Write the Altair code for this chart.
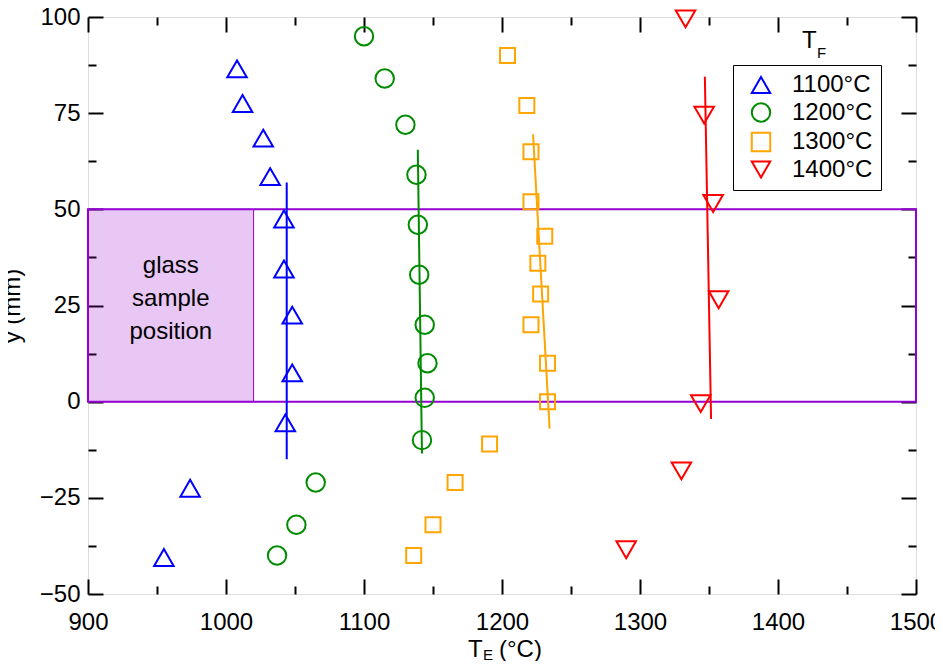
import altair as alt
import pandas as pd

# ---------------- data ----------------
series = ["1100°C", "1200°C", "1300°C", "1400°C"]
colors = ["#0000FF", "#008B00", "#FFA500", "#FF0000"]
shapes = ["triangle-up", "circle", "square", "triangle-down"]

te_1100 = [1008, 1012, 1027, 1032, 1042, 1042, 1048, 1048, 1043, 974, 955]
y_1100 = [86.5, 77.5, 68.5, 58.5, 47.5, 34.5, 22.5, 7.5, -5.5, -22.5, -40.5]
te_1200 = [1100, 1115, 1130, 1138, 1139, 1140, 1144, 1146, 1144, 1142, 1065, 1051, 1037]
y_1200 = [95, 84, 72, 59, 46, 33, 20, 10, 1, -10, -21, -32, -40]
te_1300 = [1204, 1218, 1221, 1221, 1231, 1226, 1228, 1221, 1233, 1233, 1191, 1166, 1150, 1136]
y_1300 = [90, 77, 65, 52, 43, 36, 28, 20, 10, 0, -11, -21, -32, -40]
te_1400 = [1333, 1346.5, 1353, 1357, 1344, 1330, 1290]
y_1400 = [99.5, 74.5, 51.5, 26.5, -0.5, -18, -38.5]

# linear fits (end points)
fit_te_start = [1044, 1139, 1222.5, 1347]
fit_y_start = [57, 65.5, 69.5, 84.5]
fit_te_end = [1044, 1142, 1234.5, 1351.5]
fit_y_end = [-15, -13.5, -7, -4.5]

# glass sample region
glass_te = [900, 1020]
band_te = [900, 1500]
band_y = [0, 50]
glass_label = "glass\nsample\nposition"

# axes
x_domain = [900, 1500]
y_domain = [-50, 100]
x_major = [900, 1000, 1100, 1200, 1300, 1400, 1500]
x_minor = [950, 1050, 1150, 1250, 1350, 1450]
y_major = [-50, -25, 0, 25, 50, 75, 100]
y_minor = [-37.5, -12.5, 12.5, 37.5, 62.5, 87.5]

# ---------------- tables ----------------
all_te = [te_1100, te_1200, te_1300, te_1400]
all_y = [y_1100, y_1200, y_1300, y_1400]
rows = []
for s, xs, ys in zip(series, all_te, all_y):
    for a, b in zip(xs, ys):
        rows.append({"te": a, "y": b, "series": s})
df = pd.DataFrame(rows)

fits = pd.DataFrame({"series": series, "te": fit_te_start, "y": fit_y_start,
                     "te2": fit_te_end, "y2": fit_y_end})
glass = pd.DataFrame({"te": [glass_te[0]], "te2": [glass_te[1]], "y": [band_y[0]], "y2": [band_y[1]],
                      "label": [glass_label], "cx": [sum(glass_te) / 2], "cy": [sum(band_y) / 2]})
band = pd.DataFrame({"te": [band_te[0]], "te2": [band_te[1]], "y": [band_y[0]], "y2": [band_y[1]]})

W, H = 828, 577
FONT = "Liberation Sans"
FS = 24
VIOLET = "#9400D3"

xscale = alt.Scale(domain=x_domain, nice=False, zero=False)
yscale = alt.Scale(domain=y_domain, nice=False, zero=False)
cscale = alt.Scale(domain=series, range=colors)
sscale = alt.Scale(domain=series, range=shapes)


def tick_axis(orient, values, size, offset):
    return alt.Axis(orient=orient, values=values, offset=offset, labels=False, domain=False,
                    ticks=True, tickSize=size, tickWidth=2, tickColor="black", grid=False, title=None)


x_lab = alt.Axis(orient="bottom", values=x_major, format="d", labels=True, ticks=False, tickSize=0,
                 domain=False, grid=False, title=None, labelFont=FONT, labelFontSize=FS,
                 labelColor="black", labelPadding=16, labelFlush=False, labelOverlap=False)
y_lab = alt.Axis(orient="left", values=y_major, format="d", labels=True, ticks=False, tickSize=0,
                 domain=False, grid=False, title="y (mm)", titleFont=FONT, titleFontSize=FS,
                 titleFontWeight="normal", titleColor="black", titlePadding=15, labelFont=FONT,
                 labelFontSize=FS, labelColor="black", labelPadding=8, labelFlush=False,
                 labelOverlap=False)

x_axes = [x_lab,
          tick_axis("top", x_major, 15, -H), tick_axis("top", x_minor, 8, -H),
          tick_axis("bottom", x_major, 15, -H), tick_axis("bottom", x_minor, 8, -H)]
y_axes = [y_lab,
          tick_axis("right", y_major, 15, -W), tick_axis("right", y_minor, 8, -W),
          tick_axis("left", y_major, 15, -W), tick_axis("left", y_minor, 8, -W)]

carriers = []
for xa, ya in zip(x_axes, y_axes):
    carriers.append(
        alt.Chart(df).mark_point(opacity=0).encode(
            x=alt.X("te:Q", scale=xscale, axis=xa),
            y=alt.Y("y:Q", scale=yscale, axis=ya),
        )
    )

X = lambda f: alt.X(f, scale=xscale, axis=None)
Y = lambda f: alt.Y(f, scale=yscale, axis=None)

glass_rect = alt.Chart(glass).mark_rect(fill=VIOLET, fillOpacity=0.22, stroke=VIOLET, strokeWidth=1).encode(
    x=X("te:Q"), x2="te2:Q", y=Y("y:Q"), y2="y2:Q")
band_rect = alt.Chart(band).mark_rect(fillOpacity=0, stroke=VIOLET, strokeWidth=2).encode(
    x=X("te:Q"), x2="te2:Q", y=Y("y:Q"), y2="y2:Q")
glass_text = alt.Chart(glass).mark_text(font=FONT, fontSize=FS, color="black", lineBreak="\n",
                                        lineHeight=33, baseline="middle", align="center", dy=-40).encode(
    x=X("cx:Q"), y=Y("cy:Q"), text="label:N")

legend = alt.Legend(orient="none", legendX=645, legendY=48, title=None, strokeColor="black",
                    padding=8, fillColor="white", labelFont=FONT, labelFontSize=FS,
                    labelColor="black", symbolSize=340, symbolStrokeWidth=2, symbolOffset=8,
                    labelOffset=19, rowPadding=1.5, labelExpr="datum.label + ' '")

sizes = [380, 340, 225, 380]
point_layers = []
for s, sz in zip(series, sizes):
    point_layers.append(
        alt.Chart(df).transform_filter(alt.datum.series == s).mark_point(
            filled=False, strokeWidth=2, size=sz, opacity=1).encode(
            x=X("te:Q"), y=Y("y:Q"),
            color=alt.Color("series:N", scale=cscale, legend=legend),
            shape=alt.Shape("series:N", scale=sscale, legend=legend),
        )
    )

fit_layers = []
for s, c in zip(series, colors):
    fit_layers.append(
        alt.Chart(fits).transform_filter(alt.datum.series == s).mark_rule(strokeWidth=2, color=c).encode(
            x=X("te:Q"), y=Y("y:Q"), x2="te2:Q", y2="y2:Q")
    )


# subscripted titles
def txt(t, x, y, fs, align="left"):
    return alt.Chart(pd.DataFrame({"t": [t]})).mark_text(
        font=FONT, fontSize=fs, color="black", align=align, baseline="alphabetic").encode(
        x=alt.value(x), y=alt.value(y), text="t:N")


titles = [txt("T", 380, 640, FS), txt("E", 395, 643, 15), txt("(°C)", 411, 640, FS),
          txt("T", 714, 31, FS), txt("F", 729, 41, 15)]

chart = alt.layer(
    glass_rect, band_rect, glass_text, *carriers, *fit_layers, *point_layers, *titles
).resolve_axis(x="independent", y="independent").properties(
    width=W, height=H,
    autosize=alt.AutoSizeParams(type="none"),
    padding={"left": 80, "top": 9, "right": 19, "bottom": 67},
).configure_view(stroke="black", strokeWidth=2).configure_legend(strokeWidth=2).configure(font=FONT)

chart.save("out.html", embed_options={"renderer": "svg", "actions": False})
